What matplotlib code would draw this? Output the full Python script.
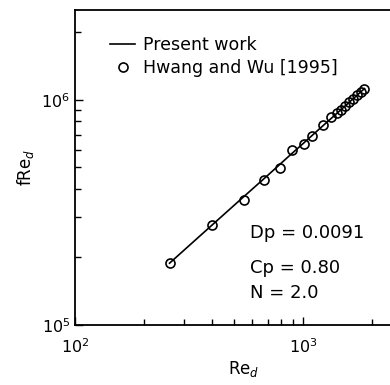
import matplotlib.pyplot as plt
from matplotlib.ticker import LogLocator, NullFormatter

# Hwang and Wu [1995] data
re_data = [260, 399, 549, 676, 792, 895, 1014, 1099, 1220, 1327,
           1409, 1469, 1528, 1592, 1657, 1725, 1796, 1853]
fre_data = [1.88e5, 2.77e5, 3.59e5, 4.41e5, 4.97e5, 5.96e5, 6.37e5, 6.92e5, 7.74e5, 8.38e5,
            8.70e5, 9.04e5, 9.38e5, 9.73e5, 1.008e6, 1.046e6, 1.085e6, 1.117e6]

# present work curve
re_line = [260, 400, 550, 700, 850, 1000, 1200, 1400, 1600, 1860]
fre_line = [1.88e5, 2.78e5, 3.71e5, 4.61e5, 5.51e5, 6.38e5, 7.53e5, 8.65e5, 9.77e5, 1.12e6]

fig = plt.figure(figsize=(3.9, 3.85), dpi=100)
ax = fig.add_axes([0.192, 0.156, 0.864, 0.818])

ax.plot(re_line, fre_line, '-', color='black', lw=1.2, label='Present work')
ax.plot(re_data, fre_data, 'o', mfc='none', mec='black', ms=6.5, mew=1.2,
        label='Hwang and Wu [1995]')

ax.set_xscale('log')
ax.set_yscale('log')
ax.set_xlim(100, 3000)
ax.set_ylim(1e5, 2.5e6)

ax.xaxis.set_minor_locator(LogLocator(base=10, subs=range(2, 10), numticks=50))
ax.yaxis.set_minor_locator(LogLocator(base=10, subs=range(2, 10), numticks=50))
ax.xaxis.set_minor_formatter(NullFormatter())
ax.yaxis.set_minor_formatter(NullFormatter())
ax.tick_params(which='both', direction='in', top=False, right=False, labelsize=11.5)
ax.tick_params(which='major', length=6, width=1)
ax.tick_params(which='minor', length=4, width=1)
ax.tick_params(axis='x', which='major', pad=9)
for s in ax.spines.values():
    s.set_linewidth(1.3)

ax.set_xlabel('Re$_d$', fontsize=12, labelpad=2)
ax.set_ylabel('fRe$_d$', fontsize=12)

ax.legend(loc='upper left', bbox_to_anchor=(0.085, 0.94), frameon=False,
          handlelength=1.4, handletextpad=0.5, fontsize=12.5, labelspacing=0.3,
          borderaxespad=0)

ax.text(0.519, 0.292, 'Dp = 0.0091', transform=ax.transAxes, fontsize=13, va='center')
ax.text(0.519, 0.181, 'Cp = 0.80', transform=ax.transAxes, fontsize=13, va='center')
ax.text(0.519, 0.102, 'N = 2.0', transform=ax.transAxes, fontsize=13, va='center')

fig.savefig('out.png', dpi=100)
